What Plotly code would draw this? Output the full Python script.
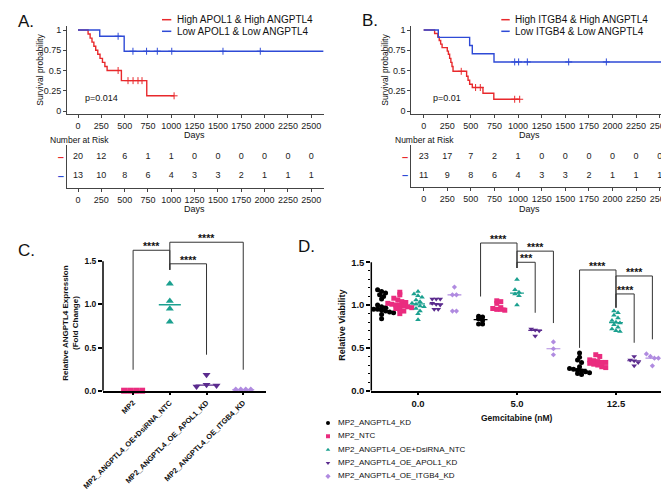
import plotly.graph_objects as go
import numpy as np

W, H = 669, 495

# ---------------- data ----------------
days_ticks = [0, 250, 500, 750, 1000, 1250, 1500, 1750, 2000, 2250, 2500]

# panel A: Kaplan-Meier step points (time, survival), censor times
a_red_t = [0, 108, 130, 150, 170, 190, 212, 236, 262, 288, 312, 465, 737]
a_red_s = [1, .95, .90, .85, .80, .75, .70, .65, .60, .55, .50, .375, .1875]
a_red_end = 1030
a_red_cens = [430, 536, 590, 643, 686, 1030]
a_blue_t = [0, 233, 495]
a_blue_s = [1, 0.923, 0.738]
a_blue_end = 2630
a_blue_cens = [430, 589, 735, 850, 1005, 1554, 1954]

# panel B
b_red_t = [0, 116, 150, 165, 180, 195, 250, 262, 275, 288, 300, 311, 455, 470, 487, 515, 628, 743]
b_red_s = [1, .957, .913, .87, .826, .783, .74, .70, .65, .60, .55, .49, .43, .38, .33, .29, .22, .145]
b_red_end = 1017
b_red_cens = [398, 550, 600, 964, 1017]
b_blue_t = [0, 155, 487, 515, 745]
b_blue_s = [1, .909, .808, .707, .606]
b_blue_end = 2600
b_blue_cens = [964, 1006, 1098, 1536, 1935]

risk_a_red = [20, 12, 6, 1, 1, 0, 0, 0, 0, 0, 0]
risk_a_blue = [13, 10, 8, 6, 4, 3, 3, 2, 1, 1, 1]
risk_b_red = [23, 17, 7, 2, 1, 0, 0, 0, 0, 0, 0]
risk_b_blue = [11, 9, 8, 6, 4, 3, 3, 2, 1, 1, 1]

# panel C
c_groups = ["MP2", "MP2_ANGPTL4_OE+DsiRNA_NTC", "MP2_ANGPTL4_OE_APOL1_KD", "MP2_ANGPTL4_OE_ITGB4_KD"]
c_mp2 = [0.0, 0.0, 0.0, 0.0]
c_oe_ntc = [1.24, 1.04, 0.95, 0.80]
c_apol1 = [0.185, 0.05, 0.07, 0.06]
c_itgb4 = [0.01, 0.01, 0.01, 0.01]

# panel D  (one list per gemcitabine dose: 0.0, 5.0, 12.5)
gem_labels = ["0.0", "5.0", "12.5"]
d_names = ["MP2_ANGPTL4_KD", "MP2_NTC", "MP2_ANGPTL4_OE+DsiRNA_NTC",
           "MP2_ANGPTL4_OE_APOL1_KD", "MP2_ANGPTL4_OE_ITGB4_KD"]
d_kd = [[1.18, 1.16, 1.14, 1.12, 1.10, 1.07, 1.00, 0.98, 0.97, 0.96, 0.95, 0.95, 0.94, 0.93, 0.92, 0.91, 0.89, 0.84],
        [0.87, 0.86, 0.84, 0.82, 0.78, 0.78],
        [0.44, 0.39, 0.36, 0.33, 0.28, 0.26, 0.25, 0.24, 0.23, 0.22, 0.21, 0.20, 0.19]]
d_ntc = [[1.15, 1.12, 1.08, 1.06, 1.04, 1.03, 1.02, 1.01, 1.00, 1.00, 0.99, 0.98, 0.97, 0.96, 0.95, 0.93, 0.90],
         [1.05, 1.04, 1.02, 0.97, 0.96, 0.95, 0.95, 0.94],
         [0.42, 0.40, 0.36, 0.35, 0.34, 0.33, 0.33, 0.32, 0.31, 0.30, 0.28, 0.27]]
d_oe_ntc = [[1.16, 1.13, 1.11, 1.09, 1.06, 1.04, 1.02, 1.01, 0.99, 0.98, 0.96, 0.93, 0.90, 0.83],
            [1.30, 1.18, 1.15, 1.13, 1.11, 1.00],
            [0.93, 0.91, 0.88, 0.85, 0.82, 0.80, 0.79, 0.77, 0.74, 0.72, 0.70, 0.69]]
d_apol1 = [[1.07, 1.07, 1.07, 1.02, 1.01, 1.00, 0.95, 0.95],
           [0.72, 0.71, 0.70, 0.64],
           [0.40, 0.36, 0.35, 0.33, 0.29]]
d_itgb4 = [[1.21, 1.12, 1.12, 0.93, 0.93],
           [0.57, 0.49, 0.42],
           [0.43, 0.40, 0.38, 0.38, 0.29]]

RED, BLUE = "#e8292c", "#2e4ad6"
PINK, TEAL, PURPLE, LAV = "#ea2c7f", "#1ba08f", "#5b2b8e", "#b08be0"
FONT = "Liberation Sans, Arial, sans-serif"


def dx(a, b):
    return [a / W, b / W]


def dy(top, bot):
    return [1 - bot / H, 1 - top / H]


def P(x, y):
    return x / W, 1 - y / H


def surv_at(times, surv, t):
    return surv[max(i for i, tt in enumerate(times) if tt <= t)]


def spread(vals, center, x_px, y_px, size, gap):
    # simple column scatter: points in the same row are spread sideways
    rows = {}
    for i, v in enumerate(vals):
        rows.setdefault(int(round(v * y_px / size)), []).append(i)
    xs = [0.0] * len(vals)
    for idx in rows.values():
        n = len(idx)
        for k, i in enumerate(idx):
            xs[i] = center + (k - (n - 1) / 2) * gap / x_px
    return xs


fig = go.Figure()

# ---------------- KM panels ----------------
km_sets = [
    ("x", "y", "x2", "y2", [(a_red_t, a_red_s, a_red_end, a_red_cens, RED),
                            (a_blue_t, a_blue_s, a_blue_end, a_blue_cens, BLUE)],
     risk_a_red, risk_a_blue),
    ("x3", "y3", "x4", "y4", [(b_red_t, b_red_s, b_red_end, b_red_cens, RED),
                              (b_blue_t, b_blue_s, b_blue_end, b_blue_cens, BLUE)],
     risk_b_red, risk_b_blue),
]
for xa, ya, xr, yr, curves, rk_red, rk_blue in km_sets:
    for t, s, end, cens, col in curves:
        fig.add_trace(go.Scatter(x=t + [end], y=s + [s[-1]], mode="lines",
                                 line=dict(color=col, width=1.4, shape="hv"),
                                 xaxis=xa, yaxis=ya, showlegend=False, hoverinfo="skip"))
        fig.add_trace(go.Scatter(x=cens, y=[surv_at(t, s, c) for c in cens], mode="markers",
                                 marker=dict(symbol="cross-thin", size=5, line=dict(color=col, width=1)),
                                 xaxis=xa, yaxis=ya, showlegend=False, hoverinfo="skip"))
    for row, vals in ((2, rk_red), (1, rk_blue)):
        fig.add_trace(go.Scatter(x=days_ticks, y=[row] * len(vals), mode="text",
                                 text=[str(v) for v in vals],
                                 textfont=dict(size=9, color="#222", family=FONT),
                                 xaxis=xr, yaxis=yr, showlegend=False, hoverinfo="skip"))

# ---------------- panel C ----------------
c_vals = [c_mp2, c_oe_ntc, c_apol1, c_itgb4]
c_style = [("square", 6, PINK), ("triangle-up", 7, TEAL), ("triangle-down", 7, PURPLE), ("diamond", 5, LAV)]
c_gap = [6, 7, 10, 5]
for i, (vals, (sym, sz, col)) in enumerate(zip(c_vals, c_style)):
    xs = spread(vals, i, 36.7, 86.3, sz, c_gap[i])
    med = float(np.median(vals))
    fig.add_trace(go.Scatter(x=[i - 0.3, i + 0.3], y=[med, med], mode="lines",
                             line=dict(color=col, width=1.4), xaxis="x5", yaxis="y5",
                             showlegend=False, hoverinfo="skip", cliponaxis=False))
    fig.add_trace(go.Scatter(x=xs, y=vals, mode="markers", marker=dict(symbol=sym, size=sz, color=col),
                             xaxis="x5", yaxis="y5", showlegend=False, cliponaxis=False))

# ---------------- panel D ----------------
d_series = [d_kd, d_ntc, d_oe_ntc, d_apol1, d_itgb4]
d_style = [("circle", 5, "#000000"), ("square", 5, PINK), ("triangle-up", 5, TEAL),
           ("triangle-down", 5, PURPLE), ("diamond", 4, LAV)]
sub = 0.184
for j, (series, (sym, sz, col)) in enumerate(zip(d_series, d_style)):
    for g, vals in enumerate(series):
        c = g + (j - 2) * sub
        xs = spread(vals, c, 99, 85.6, 5, 4)
        med = float(np.median(vals))
        fig.add_trace(go.Scatter(x=[c - 0.07, c + 0.07], y=[med, med], mode="lines",
                                 line=dict(color=col, width=1.2), xaxis="x6", yaxis="y6",
                                 showlegend=False, hoverinfo="skip"))
        fig.add_trace(go.Scatter(x=xs, y=vals, mode="markers", marker=dict(symbol=sym, size=sz, color=col),
                                 xaxis="x6", yaxis="y6", showlegend=False, cliponaxis=False))

# legend of D drawn on a hidden axis
fig.add_trace(go.Scatter(x=[10] * 5, y=list(range(5)), mode="markers",
                         marker=dict(symbol=[s[0] for s in d_style], size=4, color=[s[2] for s in d_style]),
                         xaxis="x7", yaxis="y7", showlegend=False, hoverinfo="skip"))
fig.add_trace(go.Scatter(x=[20] * 5, y=list(range(5)), mode="text", text=d_names,
                         textposition="middle right", textfont=dict(size=8, color="#111", family=FONT),
                         xaxis="x7", yaxis="y7", showlegend=False, hoverinfo="skip"))

# ---------------- axes ----------------
km_ax = dict(showline=True, linecolor="#444", linewidth=1, ticks="outside", ticklen=3, tickangle=0,
             tickcolor="#444", tickfont=dict(size=9, color="#222"), showgrid=False, zeroline=False)
km_y = dict(tickvals=[0, .25, .5, .75, 1], ticktext=["0", "0.25", "0.5", "0.75", "1"])
dash = lambda c: f"<span style='color:{c}'><b>–</b></span>"
risk_y = dict(tickvals=[1, 2], ticktext=[dash(BLUE), dash(RED)], ticks="",
              tickfont=dict(size=11))

gp_x = dict(showline=True, linecolor="#000", linewidth=1.5, ticks="outside", ticklen=3, tickwidth=1.5,
            tickcolor="#000", showgrid=False, zeroline=False)
gp_y = dict(showline=False, ticks="outside", ticklen=4, tickwidth=1.5, tickcolor="#000",
            showgrid=False, zeroline=False, tickvals=[0, .5, 1, 1.5], ticktext=["0.0", "0.5", "1.0", "1.5"])

minor_vals = [round(v, 1) for v in np.arange(0.1, 1.5, 0.1) if round(v, 1) not in (0.5, 1.0)]

fig.update_layout(
    width=W, height=H, margin=dict(l=0, r=0, t=0, b=0, pad=0, autoexpand=False),
    paper_bgcolor="white", plot_bgcolor="white", showlegend=False,
    font=dict(family=FONT, color="#111"),
    xaxis=dict(domain=dx(59, 316), range=[-118, 2637], anchor="y", tickvals=days_ticks, **km_ax),
    yaxis=dict(domain=dy(18.3, 106), range=[-0.037, 1.046], anchor="x", **km_y, **km_ax),
    xaxis2=dict(domain=dx(59, 316), range=[-118, 2637], anchor="y2", tickvals=days_ticks, **km_ax),
    yaxis2=dict(domain=dy(137, 180), range=[0.39, 2.62], anchor="x2",
                **{**km_ax, **risk_y}),
    xaxis3=dict(domain=dx(403.3, 661.7), range=[-131, 2606], anchor="y3", tickvals=days_ticks, **km_ax),
    yaxis3=dict(domain=dy(18.3, 106), range=[-0.037, 1.046], anchor="x3", **km_y, **km_ax),
    xaxis4=dict(domain=dx(403.3, 661.7), range=[-131, 2606], anchor="y4", tickvals=days_ticks, **km_ax),
    yaxis4=dict(domain=dy(137, 179), range=[0.39, 2.62], anchor="x4",
                **{**km_ax, **risk_y}),
    xaxis5=dict(domain=dx(95, 258), range=[-0.82, 3.62], anchor="y5", tickvals=[0, 1, 2, 3],
                ticktext=c_groups, tickangle=-45,
                tickfont=dict(size=7.5, weight="bold", color="#111"), **gp_x),
    yaxis5=dict(domain=dy(225.6, 382.7), range=[0, 1.82], anchor="x5",
                tickfont=dict(size=8.5, weight="bold", color="#111"), **gp_y),
    xaxis6=dict(domain=dx(363.3, 653.3), range=[-0.472, 2.458], anchor="y6", tickvals=[0, 1, 2],
                ticktext=gem_labels, tickfont=dict(size=9.5, weight="bold", color="#111"), **gp_x),
    yaxis6=dict(domain=dy(224.3, 382.7), range=[0, 1.85], anchor="x6",
                tickfont=dict(size=9.5, weight="bold", color="#111"),
                minor=dict(tickvals=minor_vals, ticks="outside", ticklen=2.5, tickwidth=1, tickcolor="#000"),
                **gp_y),
    xaxis7=dict(domain=dx(310, 480), range=[0, 170], anchor="y7", visible=False),
    yaxis7=dict(domain=dy(408.35, 475), range=[4.5, -0.5], anchor="x7", visible=False),
)
fig.update_xaxes(automargin=False)
fig.update_yaxes(automargin=False)

shapes = []
# GraphPad y-axis lines stop at 1.5
for xd, yd in (("x5 domain", "y5"), ("x6 domain", "y6")):
    shapes.append(dict(type="line", xref=xd, yref=yd, x0=0, x1=0, y0=0, y1=1.5,
                       line=dict(color="#000", width=1.5)))

# significance brackets: (x_left, x_right, level, left leg bottom, right leg bottom, label)
c_brackets = [(0, 1, 1.627, 0.243, 1.40, "****"),
              (1, 3, 1.72, 1.40, 0.243, "****"),
              (1, 2, 1.47, 1.40, 0.417, "****")]
d_brackets = [(1 - 2 * sub, 1, 1.725, 1.10, 1.433, "****"),
              (1, 1 + 2 * sub, 1.63, 1.433, 0.79, "****"),
              (1, 1 + sub, 1.50, 1.433, 0.91, "***"),
              (2 - 2 * sub, 2, 1.41, 0.50, 0.97, "****"),
              (2, 2 + 2 * sub, 1.34, 0.97, 0.60, "****"),
              (2, 2 + sub, 1.13, 0.97, 0.56, "****")]
annotations = []
for xa, ya, brs in (("x5", "y5", c_brackets), ("x6", "y6", d_brackets)):
    for x0, x1, lv, b0, b1, lab in brs:
        ln = dict(color="#333", width=1)
        shapes += [dict(type="line", xref=xa, yref=ya, x0=x0, x1=x0, y0=b0, y1=lv, line=ln),
                   dict(type="line", xref=xa, yref=ya, x0=x0, x1=x1, y0=lv, y1=lv, line=ln),
                   dict(type="line", xref=xa, yref=ya, x0=x1, x1=x1, y0=lv, y1=b1, line=ln)]
        annotations.append(dict(xref=xa, yref=ya, x=(x0 + x1) / 2, y=lv, text=lab, showarrow=False,
                                yanchor="middle", yshift=4, font=dict(size=10.5, weight="bold", color="#111")))

# KM legends
for x0, x1, xt, names in ((154, 163.3, 166.7, ["High APOL1 & High ANGPTL4", "Low APOL1 & Low ANGPTL4"]),
                          (493.3, 501.7, 505, ["High ITGB4 & High ANGPTL4", "Low ITGB4 & Low ANGPTL4"])):
    for yy, col, name in ((11.7, RED, names[0]), (23.3, BLUE, names[1])):
        px0, py = P(x0, yy)
        px1, _ = P(x1, yy)
        shapes.append(dict(type="line", xref="paper", yref="paper", x0=px0, x1=px1, y0=py, y1=py,
                           line=dict(color=col, width=1.5)))
        ax, ay = P(xt, yy)
        annotations.append(dict(xref="paper", yref="paper", x=ax, y=ay, text=name, showarrow=False,
                                xanchor="left", yanchor="middle", font=dict(size=10, color="#111")))


def note(x, y, text, size=9, anchor="center", angle=0, bold=False):
    ax, ay = P(x, y)
    annotations.append(dict(xref="paper", yref="paper", x=ax, y=ay, text=text, showarrow=False,
                            xanchor=anchor, yanchor="middle", textangle=angle,
                            font=dict(size=size, color="#111", weight="bold" if bold else "normal")))


note(8, 13.3, "A.", 17, "left")
note(352, 13, "B.", 17, "left")
note(8, 242, "C.", 17, "left")
note(288, 238, "D.", 17, "left")
note(31.7, 62, "Survival probability", 8.5, angle=-90)
note(376.7, 62, "Survival probability", 8.5, angle=-90)
note(75, 90, "p=0.014", 9, "left")
note(423, 90, "p=0.01", 9, "left")
note(186.7, 126.7, "Days")
note(521.7, 126.7, "Days")
note(186.7, 200.7, "Days")
note(521.7, 200.7, "Days")
note(40, 131.7, "Number at Risk", 8.5, "left")
note(385, 131.7, "Number at Risk", 8.5, "left")
note(61.7, 315, "Relative ANGPTL4 Expression<br>(Fold Change)", 8, angle=-90, bold=True)
note(333.3, 317.5, "Relative Viability", 9, angle=-90, bold=True)
note(508.3, 410, "Gemcitabine (nM)", 8.5, bold=True)

fig.update_layout(shapes=shapes, annotations=annotations)
fig.write_html("out.html")
